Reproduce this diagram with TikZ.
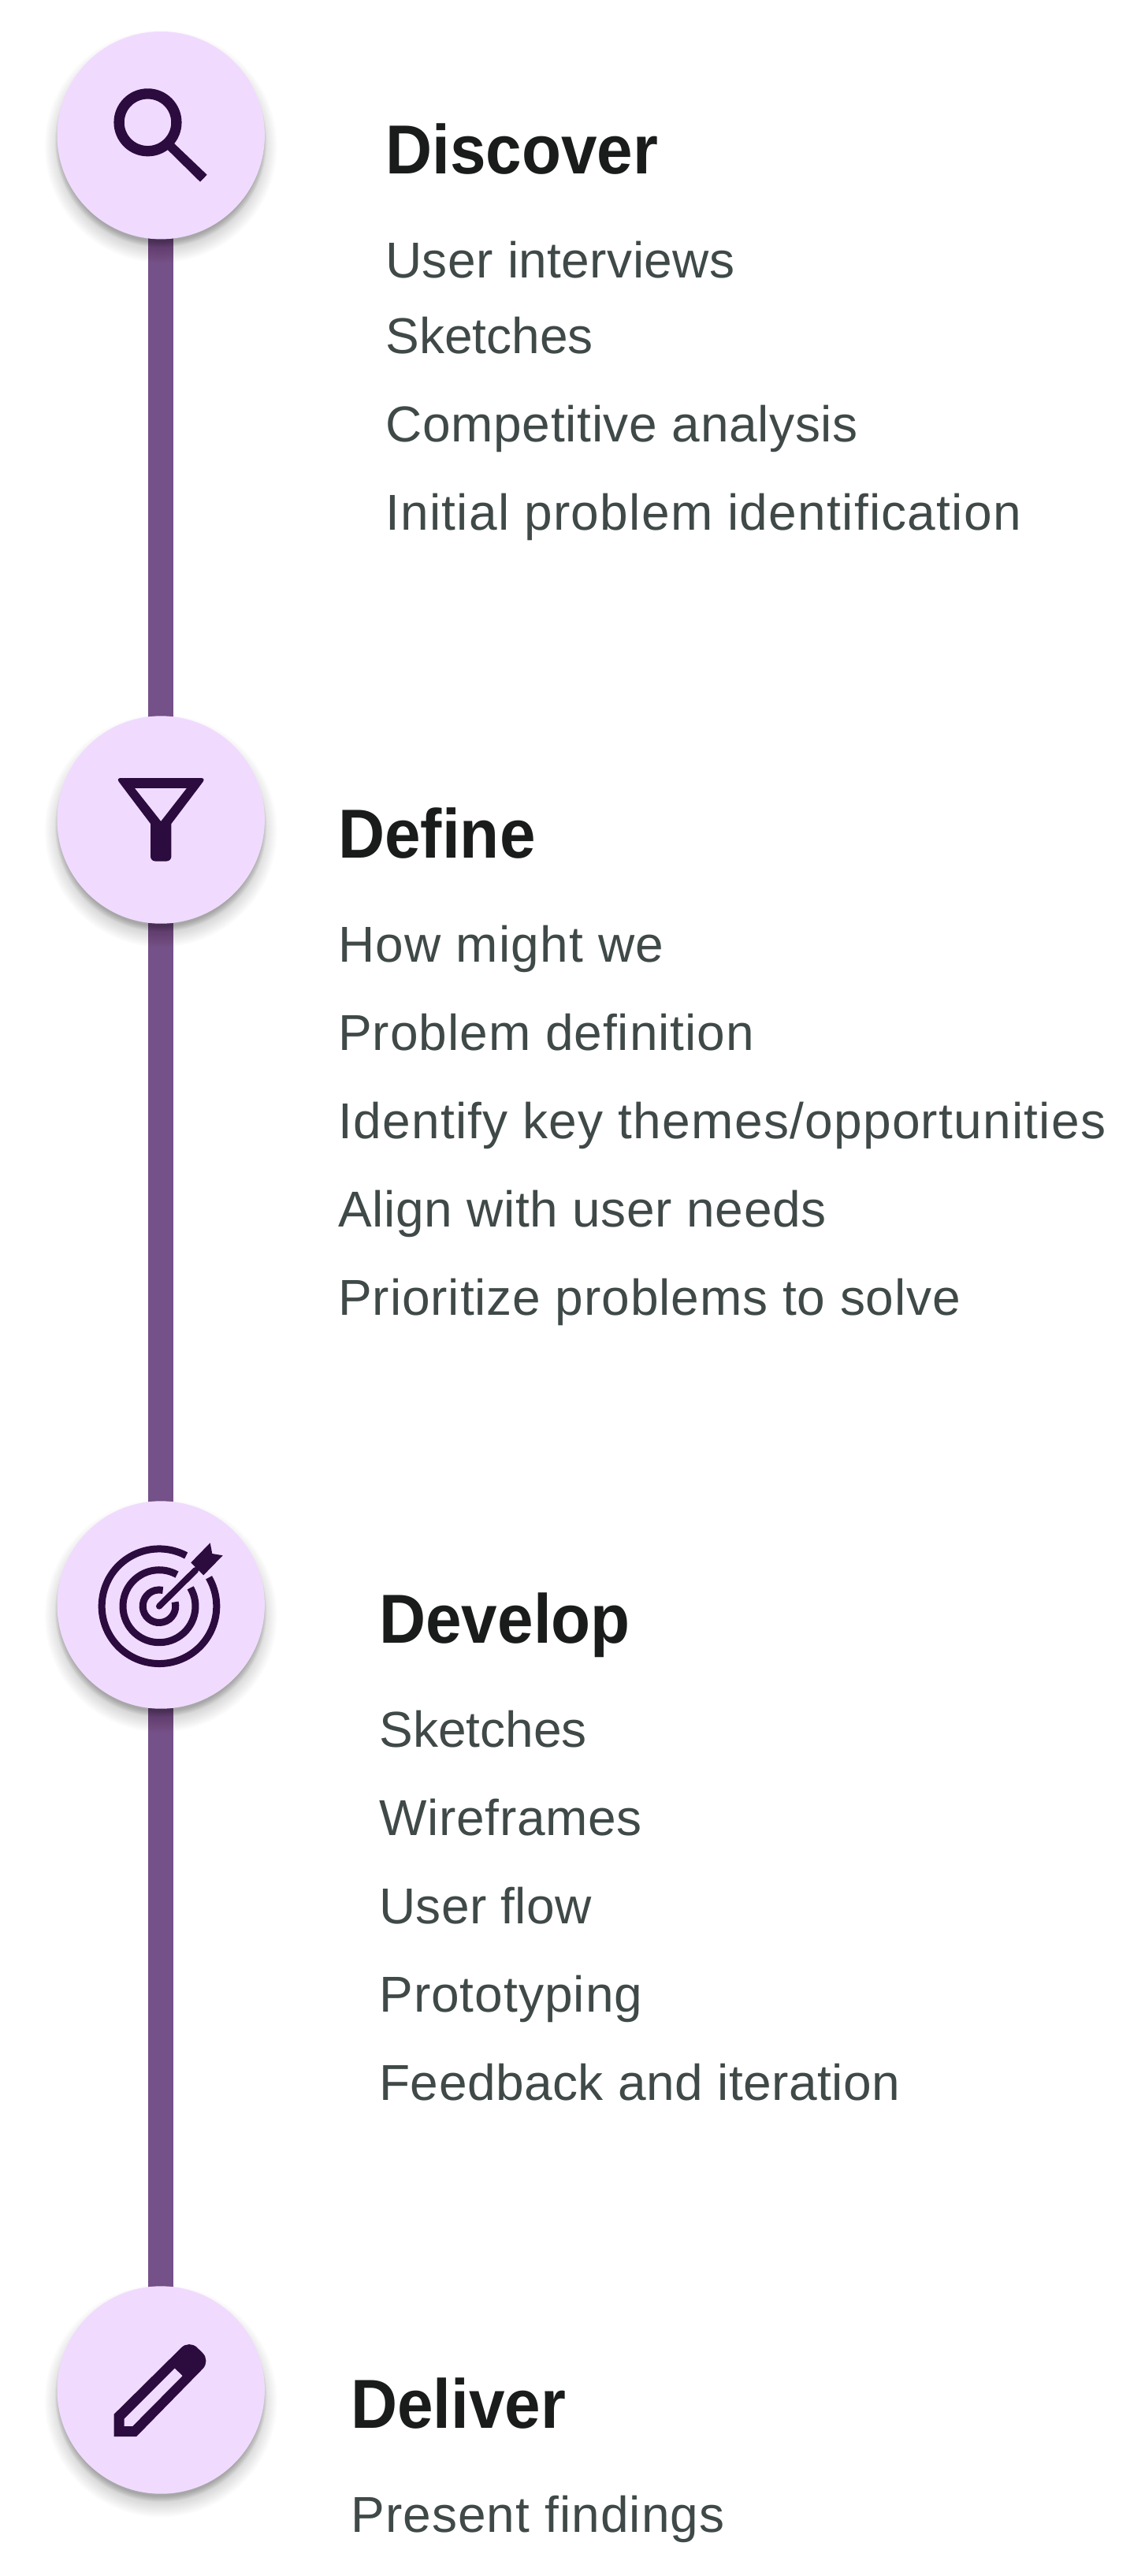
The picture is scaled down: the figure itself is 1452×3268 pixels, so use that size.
\documentclass[tikz,border=0pt]{standalone}
\usepackage{fontspec}
\setmainfont{Liberation Sans}
\newfontfamily\headf[FakeStretch=0.93]{Liberation Sans}
\usetikzlibrary{calc}
\pgfdeclarelayer{paperlayer}
\pgfdeclarelayer{lineslayer}
\pgfdeclarelayer{shadowlayer}
\pgfsetlayers{paperlayer,lineslayer,shadowlayer,main}
\definecolor{circfill}{HTML}{F0DBFF}
\definecolor{iconc}{HTML}{2C0B3F}
\definecolor{linkc}{HTML}{75518A}
\definecolor{headc}{HTML}{191C1B}
\definecolor{bodyc}{HTML}{3F4948}
\tikzset{
  x=0.5pt,y=-0.5pt,
  stepcirc/.style={circle,fill=circfill,minimum size=131.7pt,inner sep=0pt,outer sep=0pt},
  linkline/.style={draw=linkc,line width=16pt},
  iconline/.style={draw=iconc,line width=6.65pt},
  ringline/.style={draw=iconc,line width=4.5pt},
  iconfill/.style={fill=iconc,draw=none},
  headtxt/.style={anchor=base west,inner sep=0pt,text=headc,font=\headf\fontsize{44}{44}\selectfont\bfseries},
  bodytxt/.style={anchor=base west,inner sep=0pt,text=bodyc,font=\fontsize{32}{32}\selectfont\addfontfeature{LetterSpace=#1}},
  bodytxt/.default=0,
}
\newcommand{\softshadow}[1]{%
  \begin{pgfonlayer}{shadowlayer}
    \foreach \r in {0,1,...,17}{
      \fill[black,opacity=0.007] ($(#1)+(0,14)$) circle[radius={131.7+16-\r}];
    }
    \foreach \r in {0,1,...,7}{
      \fill[black,opacity=0.033] ($(#1)+(0,8)$) circle[radius={131.7+2.5-\r}];
    }
  \end{pgfonlayer}}
\begin{document}
\begin{tikzpicture}
\useasboundingbox (0,0) rectangle (1452,3268);
\begin{pgfonlayer}{paperlayer}
\fill[white] (0,0) rectangle (1452,3268);
\end{pgfonlayer}
\node[stepcirc] (c1) at (204.2,171.7) {};
\node[stepcirc] (c2) at (204.2,1040) {};
\node[stepcirc] (c3) at (204.2,2036) {};
\node[stepcirc] (c4) at (204.2,3032) {};
\begin{pgfonlayer}{lineslayer}
  \draw[linkline] (c1.center) -- (c2.center);
  \draw[linkline] (c2.center) -- (c3.center);
  \draw[linkline] (c3.center) -- (c4.center);
\end{pgfonlayer}
\softshadow{c1}\softshadow{c2}\softshadow{c3}\softshadow{c4}
% search icon
\draw[iconline] ($(c1)+(-16.7,-16.4)$) circle[radius=36.4];
\fill[iconfill] ($(c1)+(15.8,9.3)$) -- ($(c1)+(58.5,50)$) -- ($(c1)+(49.8,59)$) -- ($(c1)+(8.5,18.3)$) -- cycle;
% funnel icon
\fill[iconfill,rounded corners=3pt]
  ($(c2)+(-57,-53)$) -- ($(c2)+(57,-53)$) [sharp corners] -- ($(c2)+(13.2,5)$) [rounded corners=3pt] -- ($(c2)+(13.2,52.5)$) -- ($(c2)+(-13.2,52.5)$) [sharp corners] -- ($(c2)+(-13.2,5)$) [rounded corners=3pt] -- cycle;
\fill[circfill] ($(c2)+(-33,-40)$) -- ($(c2)+(32.5,-40)$) -- ($(c2)+(0,1.7)$) -- cycle;
% target icon
\coordinate (tc) at ($(c3)+(-2.2,1.7)$);
\draw[ringline] ($(tc)+(30:36.4pt)$) arc[start angle=30,end angle=-298,radius=36.4pt];
\draw[ringline] ($(tc)+(30.5:23pt)$) arc[start angle=30.5,end angle=-299.3,radius=23pt];
\draw[ringline] ($(tc)+(15:10.4pt)$) arc[start angle=15,end angle=-283,radius=10.4pt];
\draw[iconc,line width=4pt,line cap=round] (tc) -- ($(c3)+(44,-44)$);
\fill[iconfill] ($(c3)+(38.1,-53.7)$) -- ($(c3)+(62.5,-78.7)$) -- ($(c3)+(65.1,-65)$) -- ($(c3)+(78.5,-62.7)$) -- ($(c3)+(54.1,-37.7)$) -- ($(c3)+(47.5,-44.3)$) -- cycle;
% pencil icon
\fill[iconfill,even odd rule]
  ($(c4)+(-59.5,30.7)$) -- ($(c4)+(-59.5,59)$) -- ($(c4)+(-31,59)$)
  [rounded corners=7pt] -- ($(c4)+(63,-37)$) -- ($(c4)+(36,-63.7)$) [sharp corners] -- cycle
  ($(c4)+(-46.5,36.3)$) -- ($(c4)+(-46.5,46)$) -- ($(c4)+(-35.9,46)$) -- ($(c4)+(27.5,-18)$) -- ($(c4)+(17.5,-27.7)$) -- cycle;
% text
\node[headtxt] (h1) at (489,220) {Discover};
\node[bodytxt=0.7] (t11) at (489,352) {User interviews};
\node[bodytxt=0] (t12) at (489,448) {Sketches};
\node[bodytxt=1.1] (t13) at (489,560) {Competitive analysis};
\node[bodytxt=2.0] (t14) at (489,672) {Initial problem identification};
\node[headtxt] (h2) at (429,1088) {Define};
\node[bodytxt=1.9] (t21) at (429,1220) {How might we};
\node[bodytxt=1.5] (t22) at (429,1332) {Problem definition};
\node[bodytxt=2.0] (t23) at (429,1444) {Identify key themes/opportunities};
\node[bodytxt=1.0] (t24) at (429,1556) {Align with user needs};
\node[bodytxt=1.4] (t25) at (429,1668) {Prioritize problems to solve};
\node[headtxt] (h3) at (481,2084) {Develop};
\node[bodytxt=0] (t31) at (481,2216) {Sketches};
\node[bodytxt=1.1] (t32) at (481,2328) {Wireframes};
\node[bodytxt=0.6] (t33) at (481,2440) {User flow};
\node[bodytxt=1.6] (t34) at (481,2552) {Prototyping};
\node[bodytxt=0.8] (t35) at (481,2664) {Feedback and iteration};
\node[headtxt] (h4) at (445,3080) {Deliver};
\node[bodytxt=1.7] (t41) at (445,3212) {Present findings};
\end{tikzpicture}
\end{document}
